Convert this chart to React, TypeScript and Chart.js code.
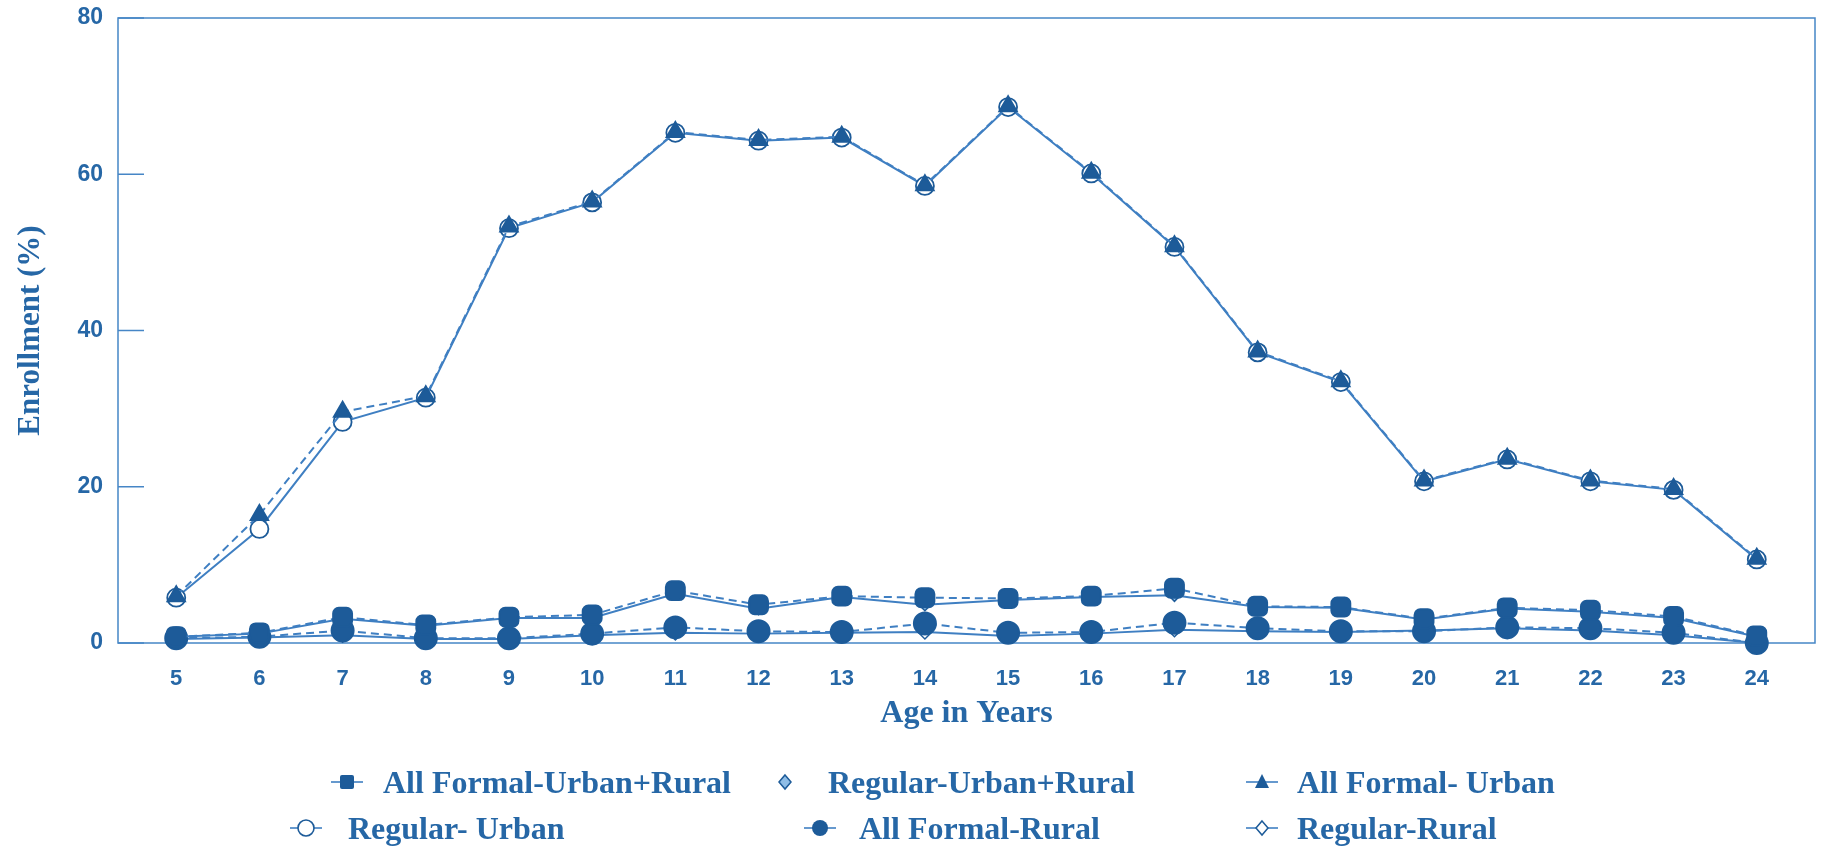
import React, { useEffect, useRef } from "react";
import { Chart, registerables } from "chart.js";

Chart.register(...registerables);

// ---- data ----
const ages = [5, 6, 7, 8, 9, 10, 11, 12, 13, 14, 15, 16, 17, 18, 19, 20, 21, 22, 23, 24];
const allFormalUrbanRural = [0.8, 1.3, 3.3, 2.3, 3.3, 3.6, 6.7, 4.9, 6.0, 5.8, 5.7, 6.0, 7.0, 4.7, 4.6, 3.1, 4.5, 4.2, 3.4, 0.9];
const regularUrbanRural = [0.8, 1.2, 3.1, 2.2, 3.2, 3.2, 6.3, 4.4, 5.9, 4.9, 5.5, 5.9, 6.1, 4.6, 4.5, 3.0, 4.4, 4.0, 3.2, 0.8];
const allFormalUrban = [6.0, 16.4, 29.6, 31.6, 53.3, 56.5, 65.4, 64.4, 64.8, 58.6, 68.7, 60.2, 50.8, 37.3, 33.5, 20.8, 23.6, 20.8, 19.7, 10.8];
const regularUrban = [5.8, 14.6, 28.3, 31.4, 53.1, 56.4, 65.3, 64.3, 64.7, 58.5, 68.6, 60.1, 50.7, 37.2, 33.4, 20.7, 23.5, 20.7, 19.6, 10.7];
const allFormalRural = [0.6, 0.8, 1.6, 0.6, 0.6, 1.2, 2.0, 1.5, 1.4, 2.5, 1.3, 1.4, 2.6, 1.9, 1.5, 1.5, 2.0, 1.9, 1.3, 0.0];
const regularRural = [0.5, 0.7, 1.0, 0.5, 0.5, 1.0, 1.3, 1.2, 1.3, 1.4, 0.9, 1.2, 1.7, 1.5, 1.4, 1.6, 1.9, 1.6, 1.0, 0.0];
const seriesNames = [
  "All Formal-Urban+Rural",
  "Regular-Urban+Rural",
  "All Formal- Urban",
  "Regular- Urban",
  "All Formal-Rural",
  "Regular-Rural",
];
const yTicks = [0, 20, 40, 60, 80];
const xTitle = "Age in Years";
const yTitle = "Enrollment (%)";

// ---- styles ----
const TEXT = "#2667a6";
const LINE = "#3f7fc2";
const DARK = "#1d5b99";
const LIGHT = "#8fbde6";
const AXIS = "#4686c6";

const frame = {
  id: "frame",
  beforeDatasetsDraw(chart: any) {
    const { ctx, chartArea, scales } = chart;
    ctx.save();
    ctx.strokeStyle = AXIS;
    ctx.lineWidth = 1.5;
    ctx.strokeRect(chartArea.left, chartArea.top, chartArea.right - chartArea.left, chartArea.bottom - chartArea.top);
    ctx.beginPath();
    scales.y.ticks.forEach((t: any) => {
      const y = scales.y.getPixelForValue(t.value);
      ctx.moveTo(chartArea.left, y);
      ctx.lineTo(chartArea.left + 26, y);
    });
    ctx.stroke();
    ctx.restore();
  },
};

function pts(vals: number[]) {
  return ages.map((a, i) => ({ x: a, y: vals[i] }));
}

type MarkerKind = "square" | "diamondLight" | "triangle" | "openCircle" | "filledCircle" | "openDiamond";

function Marker({ kind, line }: { kind: MarkerKind; line: boolean }) {
  const c = 18;
  let shape: React.ReactNode = null;
  if (kind === "square") shape = <rect x={c - 7} y={5} width={14} height={14} rx={2} fill={DARK} />;
  if (kind === "diamondLight") shape = <polygon points={`${c},5 ${c + 6},12 ${c},19 ${c - 6},12`} fill={LIGHT} stroke={DARK} strokeWidth={1.5} />;
  if (kind === "triangle") shape = <polygon points={`${c},4 ${c + 7},18 ${c - 7},18`} fill={DARK} />;
  if (kind === "openCircle") shape = <circle cx={c} cy={12} r={8} fill="#fff" stroke={DARK} strokeWidth={1.6} />;
  if (kind === "filledCircle") shape = <circle cx={c} cy={12} r={8} fill={DARK} />;
  if (kind === "openDiamond") shape = <polygon points={`${c},5 ${c + 6},12 ${c},19 ${c - 6},12`} fill="#fff" stroke={DARK} strokeWidth={1.5} />;
  return (
    <svg width={36} height={24} style={{ display: "block" }}>
      {line && <line x1={2} y1={12} x2={34} y2={12} stroke={LINE} strokeWidth={1.6} />}
      {shape}
    </svg>
  );
}

const legendItems: { name: string; kind: MarkerKind; mx: number; tx: number; y: number }[] = [
  { name: seriesNames[0], kind: "square", mx: 347, tx: 383, y: 782 },
  { name: seriesNames[1], kind: "diamondLight", mx: 785, tx: 828, y: 782 },
  { name: seriesNames[2], kind: "triangle", mx: 1262, tx: 1297, y: 782 },
  { name: seriesNames[3], kind: "openCircle", mx: 306, tx: 348, y: 828 },
  { name: seriesNames[4], kind: "filledCircle", mx: 820, tx: 859, y: 828 },
  { name: seriesNames[5], kind: "openDiamond", mx: 1262, tx: 1297, y: 828 },
];

export default function App() {
  const ref = useRef<HTMLCanvasElement | null>(null);

  useEffect(() => {
    document.body.style.margin = "0";
    document.body.style.overflow = "hidden";
    const canvas = ref.current;
    if (!canvas) return;
    const common = { borderColor: LINE, borderWidth: 2, clip: false as any, tension: 0 };
    const chart = new Chart(canvas, {
      type: "line",
      data: {
        datasets: [
          {
            label: seriesNames[0], data: pts(allFormalUrbanRural), ...common, borderDash: [8, 5],
            pointStyle: "rectRounded", pointRadius: 11, pointBackgroundColor: DARK, pointBorderColor: DARK,
          },
          {
            label: seriesNames[1], data: pts(regularUrbanRural), ...common,
            pointStyle: "rectRot", pointRadius: 6, pointBackgroundColor: LIGHT, pointBorderColor: DARK, pointBorderWidth: 1.5,
          },
          {
            label: seriesNames[2], data: pts(allFormalUrban), ...common, borderDash: [8, 5],
            pointStyle: "triangle", pointRadius: 10, pointBackgroundColor: DARK, pointBorderColor: DARK,
          },
          {
            label: seriesNames[3], data: pts(regularUrban), ...common,
            pointStyle: "circle", pointRadius: 9, pointBackgroundColor: "#ffffff", pointBorderColor: DARK, pointBorderWidth: 1.8,
          },
          {
            label: seriesNames[4], data: pts(allFormalRural), ...common, borderDash: [8, 5],
            pointStyle: "circle", pointRadius: 11, pointBackgroundColor: DARK, pointBorderColor: DARK,
          },
          {
            label: seriesNames[5], data: pts(regularRural), ...common,
            pointStyle: "rectRot", pointRadius: 7, pointBackgroundColor: "#ffffff", pointBorderColor: DARK, pointBorderWidth: 1.5,
          },
        ] as any,
      },
      options: {
        animation: false,
        responsive: false,
        maintainAspectRatio: false,
        layout: { autoPadding: false, padding: { left: 0, top: 18, right: 6, bottom: 0 } },
        plugins: { legend: { display: false }, tooltip: { enabled: false } },
        scales: {
          x: {
            type: "linear",
            min: 4.3,
            max: 24.7,
            afterFit: (s: any) => { s.height = 207; s.paddingLeft = 0; s.paddingRight = 0; },
            afterBuildTicks: (s: any) => { s.ticks = ages.map((v) => ({ value: v })); },
            grid: { display: false, drawTicks: false },
            border: { display: false },
            ticks: {
              padding: 23,
              autoSkip: false,
              maxRotation: 0,
              color: TEXT,
              font: { family: "'Liberation Sans', Arial, sans-serif", size: 22, weight: "bold" },
              callback: (v: any) => String(v),
            },
            title: {
              display: true,
              text: xTitle,
              color: TEXT,
              font: { family: "'Liberation Serif', 'Times New Roman', serif", size: 32, weight: "bold" },
              padding: { top: 0, bottom: 117 },
            },
          },
          y: {
            min: 0,
            max: 80,
            afterFit: (s: any) => { s.width = 118; s.paddingTop = 0; s.paddingBottom = 0; },
            afterBuildTicks: (s: any) => { s.ticks = yTicks.map((v) => ({ value: v })); },
            grid: { display: false, drawTicks: false },
            border: { display: false },
            ticks: {
              padding: 15,
              color: TEXT,
              font: { family: "'Liberation Sans', Arial, sans-serif", size: 23, weight: "bold" },
            },
            title: {
              display: true,
              text: yTitle,
              color: TEXT,
              font: { family: "'Liberation Serif', 'Times New Roman', serif", size: 31, weight: "bold" },
              padding: { top: 12, bottom: 0 },
            },
          },
        },
      } as any,
      plugins: [frame],
    });
    return () => chart.destroy();
  }, []);

  return (
    <div style={{ position: "relative", width: 1821, height: 850, background: "#fff" }}>
      <canvas ref={ref} width={1821} height={850} style={{ display: "block", width: 1821, height: 850 }} />
      {legendItems.map((it) => (
        <React.Fragment key={it.name}>
          <div style={{ position: "absolute", left: it.mx - 18, top: it.y - 12 }}>
            <Marker kind={it.kind} line={it.kind !== "diamondLight"} />
          </div>
          <div
            style={{
              position: "absolute",
              left: it.tx,
              top: it.y - 20,
              height: 40,
              lineHeight: "40px",
              whiteSpace: "nowrap",
              fontFamily: "'Liberation Serif', 'Times New Roman', serif",
              fontWeight: "bold",
              fontSize: 32,
              color: TEXT,
            }}
          >
            {it.name}
          </div>
        </React.Fragment>
      ))}
    </div>
  );
}
